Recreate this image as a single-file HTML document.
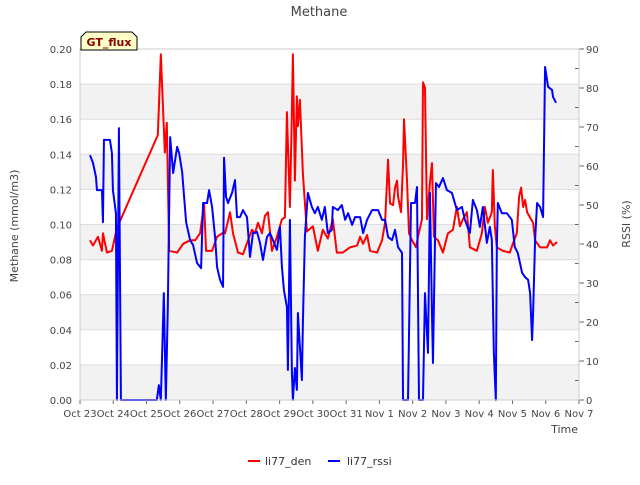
<!DOCTYPE html>
<html><head><meta charset="utf-8"><style>
body{margin:0;background:#fff;font-family:"Liberation Sans","DejaVu Sans",sans-serif;}
svg text{font-family:"DejaVu Sans","Liberation Sans",sans-serif;}
</style></head><body>
<svg id="chart" width="640" height="480" xmlns="http://www.w3.org/2000/svg">
<rect width="640" height="480" fill="#fff"/>
<g id="bands"></g>
<g id="grid"></g>
<g id="series"></g>
<g id="axes"></g>
<text x="319" y="16" text-anchor="middle" font-size="13" fill="#444">Methane</text>
<g>
<path d="M81,50 L81,37 L86,32 L132,32 L137,37 L137,50 Z" fill="#ffffc8" stroke="#000" stroke-width="1"/>
<text x="109" y="46" text-anchor="middle" font-size="11" font-weight="bold" fill="#8b0000">GT_flux</text>
</g>
<text transform="translate(18,226) rotate(-90)" text-anchor="middle" font-size="11" fill="#444">Methane (mmol/m3)</text>
<text transform="translate(630,224) rotate(-90)" text-anchor="middle" font-size="11" fill="#444">RSSI (%)</text>
<text x="578" y="433" text-anchor="end" font-size="11" fill="#444">Time</text>
<g>
<g><line x1="248" y1="461" x2="260" y2="461" stroke="#ff0000" stroke-width="2"/><text x="265" y="465" font-size="11" fill="#333">li77_den</text></g>
<g><line x1="328" y1="461" x2="340" y2="461" stroke="#0000ff" stroke-width="2"/><text x="347" y="465" font-size="11" fill="#333">li77_rssi</text></g>
</g>
</svg>
<script>
const xTickLabels=["Oct 23","Oct 24","Oct 25","Oct 26","Oct 27","Oct 28","Oct 29","Oct 30","Oct 31","Nov 1","Nov 2","Nov 3","Nov 4","Nov 5","Nov 6","Nov 7"];
const yTicks=[0,0.02,0.04,0.06,0.08,0.10,0.12,0.14,0.16,0.18,0.20];
const y2Ticks=[0,10,20,30,40,50,60,70,80,90];
const denDays=[.30,.39,.54,.66,.69,.81,.96,1.11,2.34,2.43,2.55,2.61,2.68,2.92,3.10,3.31,3.46,3.61,3.73,3.79,3.97,4.12,4.27,4.36,4.51,4.60,4.75,4.90,5.05,5.17,5.26,5.35,5.47,5.56,5.65,5.77,5.92,6.07,6.16,6.22,6.31,6.37,6.40,6.46,6.52,6.55,6.61,6.70,6.82,7.00,7.15,7.30,7.45,7.60,7.72,7.90,8.12,8.33,8.42,8.51,8.63,8.72,8.93,9.08,9.17,9.26,9.32,9.41,9.47,9.53,9.56,9.65,9.71,9.74,9.83,9.89,9.98,10.10,10.16,10.28,10.31,10.37,10.43,10.52,10.58,10.64,10.76,10.91,11.06,11.21,11.33,11.42,11.51,11.63,11.72,11.93,12.08,12.17,12.26,12.38,12.41,12.47,12.53,12.71,12.92,13.01,13.13,13.20,13.26,13.32,13.38,13.44,13.53,13.62,13.68,13.83,14.04,14.13,14.22,14.34];
const denValues=[.091,.088,.093,.085,.095,.084,.085,.098,.151,.197,.141,.158,.085,.084,.089,.091,.091,.095,.112,.085,.085,.093,.095,.095,.107,.095,.084,.083,.091,.097,.095,.101,.095,.105,.107,.085,.093,.103,.104,.164,.110,.165,.197,.125,.173,.156,.171,.129,.096,.099,.085,.097,.092,.103,.084,.084,.087,.088,.093,.089,.094,.085,.084,.091,.101,.137,.112,.111,.121,.125,.116,.107,.134,.160,.125,.095,.091,.087,.093,.103,.181,.178,.103,.124,.135,.093,.091,.084,.095,.097,.110,.099,.103,.107,.087,.085,.095,.110,.101,.107,.131,.099,.087,.085,.084,.089,.095,.116,.121,.110,.114,.107,.104,.101,.091,.087,.087,.091,.088,.090];
const rssiDays=[.30,.39,.48,.51,.66,.69,.72,.90,.96,.99,1.08,1.11,1.17,1.23,2.31,2.37,2.43,2.52,2.58,2.64,2.71,2.80,2.92,2.98,3.07,3.19,3.31,3.40,3.52,3.64,3.70,3.82,3.88,3.97,4.06,4.12,4.21,4.30,4.33,4.39,4.45,4.57,4.66,4.72,4.81,4.90,5.02,5.11,5.20,5.32,5.41,5.50,5.62,5.71,5.80,5.92,6.01,6.07,6.13,6.22,6.25,6.31,6.37,6.40,6.46,6.52,6.55,6.67,6.70,6.76,6.85,6.97,7.06,7.15,7.27,7.36,7.45,7.57,7.60,7.75,7.87,7.97,8.06,8.18,8.27,8.42,8.51,8.63,8.78,8.96,9.08,9.17,9.26,9.38,9.47,9.56,9.68,9.71,9.86,9.95,10.07,10.13,10.19,10.31,10.37,10.46,10.52,10.58,10.61,10.70,10.79,10.91,11.03,11.18,11.33,11.48,11.57,11.72,11.81,11.93,12.02,12.11,12.23,12.32,12.38,12.44,12.50,12.53,12.56,12.68,12.83,12.98,13.07,13.16,13.29,13.38,13.47,13.53,13.59,13.62,13.68,13.74,13.83,13.92,13.98,14.07,14.19,14.22,14.31];
const rssiValues=[62.8,60.8,57.2,53.8,53.8,45.6,66.7,66.7,63.3,53.8,47.9,0,69.7,0,0,3.8,0,27.4,0,23.8,67.4,58.2,64.9,63.3,58.5,45.6,41.0,39.7,35.1,33.8,50.5,50.5,53.8,49.5,41.8,34.1,30.8,29.0,62.1,52.1,50.5,53.1,56.4,46.9,46.9,48.7,46.9,36.7,42.8,43.1,40.3,35.9,41.8,42.8,41.0,38.5,44.4,34.1,28.2,23.8,7.7,46.2,6.9,0,8.2,2.6,22.3,5.1,19.7,41.8,53.1,49.5,47.9,49.5,46.2,49.5,42.8,43.6,49.5,48.7,50.0,46.2,47.9,44.9,46.9,46.9,42.8,46.2,48.7,48.7,46.2,46.2,41.8,41.0,43.6,39.2,37.7,0,0,50.5,50.5,54.6,0,0,27.4,12.1,53.1,22.3,9.5,55.6,54.6,56.9,53.8,53.1,48.7,49.5,46.2,42.8,51.3,48.7,44.4,49.5,40.3,44.4,41.0,12.1,0,39.2,50.5,47.9,47.9,46.2,39.2,37.7,32.6,31.5,30.8,27.4,15.4,22.3,41.0,50.5,49.5,46.9,85.4,80.3,79.5,77.7,76.2];

const L=80,R=579,T=49,B=400,NS="http://www.w3.org/2000/svg";
const xs=d=>L+d*(R-L)/15;
const ys=v=>B-v/0.2*(B-T);
const y2s=v=>B-v/90*(B-T);
function mk(tag,attrs,parent){const e=document.createElementNS(NS,tag);for(const k in attrs)e.setAttribute(k,attrs[k]);parent.appendChild(e);return e;}
const bands=document.getElementById('bands'),grid=document.getElementById('grid'),axes=document.getElementById('axes'),series=document.getElementById('series');
for(let i=1;i<yTicks.length;i+=2){
  const r=mk('rect',{x:L,y:ys(yTicks[i]),width:R-L,height:ys(yTicks[i-1])-ys(yTicks[i]),fill:'#f2f2f2'},bands);
  
  
}
yTicks.forEach(v=>{
  const l=mk('line',{x1:L,x2:R,y1:ys(v),y2:ys(v),stroke:'#dcdcdc','stroke-width':1},grid);
  
  
  const t=mk('text',{x:L-8,y:ys(v)+4,'text-anchor':'end','font-size':10,fill:'#444'},axes);
  t.textContent=v.toFixed(2);
  
  
});
y2Ticks.forEach(v=>{
  const t=mk('text',{x:R+7,y:y2s(v)+4,'font-size':10,fill:'#444'},axes);
  t.textContent=v;
  
  
  mk('line',{x1:R,x2:R+5,y1:y2s(v),y2:y2s(v),stroke:'#666'},axes);
  if(v<90){const m=mk('line',{x1:R-4,x2:R,y1:y2s(v+5),y2:y2s(v+5),stroke:'#666'},axes);}
});
xTickLabels.forEach((s,i)=>{
  const t=mk('text',{x:xs(i),y:B+17,'text-anchor':'middle','font-size':10,fill:'#444'},axes);
  t.textContent=s;
  
  
  mk('line',{x1:xs(i),x2:xs(i),y1:B,y2:B+4,stroke:'#666'},axes);
});
mk('rect',{x:L,y:T,width:R-L,height:B-T,fill:'none',stroke:'#ccc'},axes);
const den=mk('polyline',{points:denDays.map((d,i)=>xs(d)+','+ys(denValues[i])).join(' '),fill:'none',stroke:'#ff0000','stroke-width':2,'stroke-linejoin':'round'},series);


const rs=mk('polyline',{points:rssiDays.map((d,i)=>xs(d)+','+y2s(rssiValues[i])).join(' '),fill:'none',stroke:'#0000ff','stroke-width':2,'stroke-linejoin':'round'},series);


</script>
</body></html>
